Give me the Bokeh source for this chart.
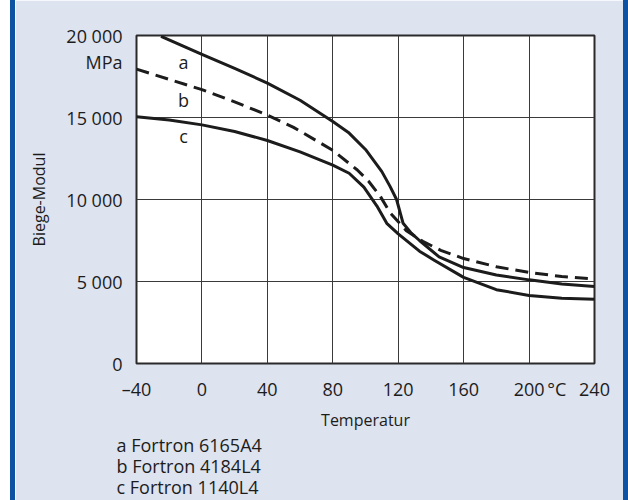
from bokeh.plotting import figure
from bokeh.models import Label, FixedTicker, Range1d, Spacer, Title
from bokeh.layouts import row
from bokeh.embed import file_html
from bokeh.resources import INLINE

FONT = "Open Sans"

# --- data ---
x_ticks = [-40, 0, 40, 80, 120, 160, 200, 240]
x_tick_labels = ["\u201340", "0", "40", "80", "120", "160", "200", "240"]
x_unit_pos = 217
x_unit = "\u00b0C"
y_ticks = [0, 5000, 10000, 15000, 20000]
y_tick_labels = ["0", "5 000", "10 000", "15 000", "20 000"]
y_unit_pos = 18370
y_unit = "MPa"

a_T = [-25, 0, 20, 40, 60, 80, 90, 100, 110, 115, 119, 123, 128, 133, 145, 160, 180, 200, 220, 240]
a_v = [19950, 18850, 18000, 17100, 16050, 14750, 14050, 13050, 11700, 10800, 10000, 8550, 7950,
       7500, 6500, 5850, 5400, 5100, 4850, 4700]

b_T = [-40, 0, 20, 40, 56, 80, 95, 102, 109, 115, 125, 135, 146, 160, 180, 200, 220, 240]
b_v = [17950, 16700, 15950, 15150, 14400, 13000, 11800, 11100, 10200, 9200, 8100, 7450, 6900,
       6400, 5900, 5550, 5300, 5150]

c_T = [-40, -20, 0, 20, 40, 60, 80, 90, 99, 107, 113, 120, 133, 142, 160, 180, 200, 220, 240]
c_v = [15050, 14850, 14550, 14150, 13600, 12900, 12100, 11600, 10750, 9600, 8550, 7900, 6850,
       6300, 5250, 4500, 4150, 3980, 3920]

series_names = ["a", "b", "c"]
label_pos = [(-11.3, 18370), (-11.3, 16040), (-11.3, 13900)]
legend_lines = ["a Fortron 6165A4", "b Fortron 4184L4", "c Fortron 1140L4"]

BG = "#dde3ef"
BLUE = "#0d52a3"
INK = "#1c1c1c"

p = figure(width=608, height=500, x_range=Range1d(-40, 240), y_range=Range1d(0, 20000),
           output_backend="svg", toolbar_location=None,
           min_border_left=121, min_border_right=29, min_border_top=35, min_border_bottom=137)
p.background_fill_color = "white"
p.border_fill_color = BG
p.outline_line_color = "#2a2a2a"
p.outline_line_width = 2

# grids
p.xgrid.ticker = FixedTicker(ticks=x_ticks)
p.ygrid.ticker = FixedTicker(ticks=y_ticks)
for g in (p.xgrid, p.ygrid):
    g.grid_line_color = "#3a3a3a"
    g.grid_line_width = 1
    g.grid_line_alpha = 1

# axes (unit labels sit at their own tick positions, without grid lines)
p.xaxis.ticker = FixedTicker(ticks=x_ticks + [x_unit_pos])
p.yaxis.ticker = FixedTicker(ticks=y_ticks + [y_unit_pos])
xo = {t: l for t, l in zip(x_ticks, x_tick_labels)}
xo[x_unit_pos] = x_unit
yo = {t: l for t, l in zip(y_ticks, y_tick_labels)}
yo[y_unit_pos] = y_unit
p.xaxis.major_label_overrides = xo
p.yaxis.major_label_overrides = yo
for ax in (p.xaxis, p.yaxis):
    ax.axis_line_color = None
    ax.major_tick_line_color = None
    ax.minor_tick_line_color = None
    ax.major_tick_out = 0
    ax.major_tick_in = 0
    ax.minor_tick_out = 0
    ax.major_label_text_font = FONT
    ax.major_label_text_font_size = "18px"
    ax.major_label_text_color = INK
    ax.axis_label_text_font = FONT
    ax.axis_label_text_font_style = "normal"
    ax.axis_label_text_color = INK
    ax.axis_label_text_font_size = "16px"
p.xaxis.axis_label = "Temperatur"
p.yaxis.axis_label = "Biege-Modul"
p.xaxis.major_label_standoff = 13
p.yaxis.major_label_standoff = 14
p.xaxis.axis_label_standoff = 5
p.yaxis.axis_label_standoff = 13

# curves
p.line(a_T, a_v, line_width=3, line_color=INK, line_join="round")
p.line(b_T, b_v, line_width=3, line_color=INK, line_join="round", line_dash="13 7")
p.line(c_T, c_v, line_width=3, line_color=INK, line_join="round")

for name, (lx, ly) in zip(series_names, label_pos):
    p.add_layout(Label(x=lx, y=ly, text=name, text_align="center", text_baseline="middle",
                       text_font=FONT, text_font_size="18px", text_color=INK))

# legend lines below the axis label
for txt in legend_lines:
    p.add_layout(Title(text=txt, align="left", offset=-20, text_font=FONT,
                       text_font_size="18px", text_font_style="normal", text_color=INK,
                       standoff=-5), "below")

layout = row(Spacer(width=10, height=500),
             Spacer(width=5, height=500, styles={"background-color": BLUE}),
             p,
             Spacer(width=5, height=500, styles={"background-color": BLUE}))

open("out.html", "w").write(file_html(layout, INLINE))
